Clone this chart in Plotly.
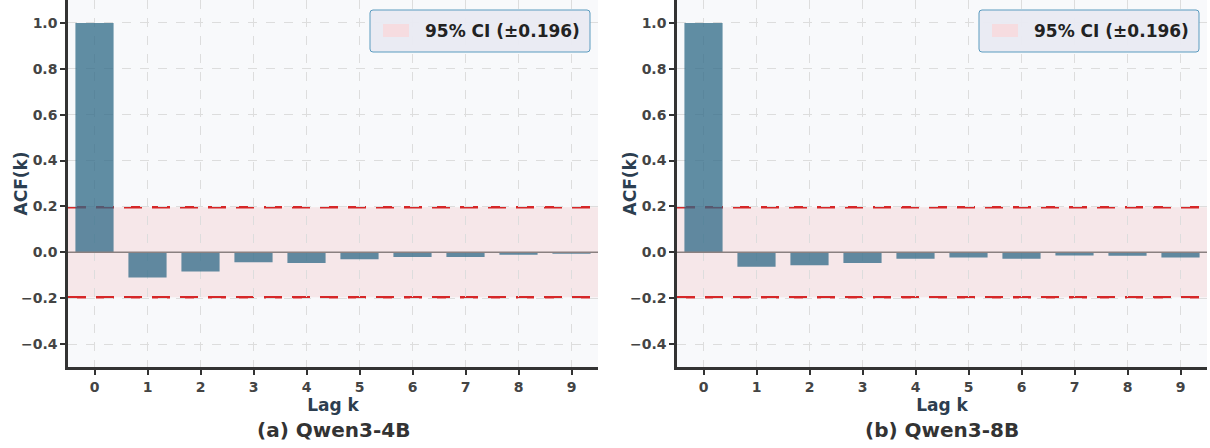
import plotly.graph_objects as go

lags = list(range(10))
acf_4b = [1.0, -0.110, -0.084, -0.043, -0.047, -0.030, -0.020, -0.020, -0.011, -0.006]
acf_8b = [1.0, -0.063, -0.056, -0.047, -0.028, -0.023, -0.028, -0.014, -0.015, -0.023]
ci = 0.196
panel_titles = ["(a) Qwen3-4B", "(b) Qwen3-8B"]
y_ticks = [-0.4, -0.2, 0.0, 0.2, 0.4, 0.6, 0.8, 1.0]
y_ticktext = ["−0.4", "−0.2", "0.0", "0.2", "0.4", "0.6", "0.8", "1.0"]
legend_label = "95% CI (±0.196)"
x_title = "Lag k"
y_title = "ACF(k)"

W, H = 1210, 448
PX0 = [68, 677]
PW = 530
PH = 367
dom_x = [[PX0[0] / W, (PX0[0] + PW) / W], [PX0[1] / W, (PX0[1] + PW) / W]]
dom_y = [(H - PH) / H, 1.0]

FONT = "DejaVu Sans"
BAR_COLOR = "rgba(46,104,133,0.75)"
PINK = "rgba(240,170,170,0.22)"
RED = "#d62728"

fig = go.Figure()
series = [acf_4b, acf_8b]
for i, vals in enumerate(series):
    xa = "x" if i == 0 else "x2"
    ya = "y" if i == 0 else "y2"
    fig.add_trace(go.Bar(x=lags, y=vals, xaxis=xa, yaxis=ya, width=0.72,
                         marker=dict(color=BAR_COLOR, line=dict(width=0)),
                         showlegend=False, name=panel_titles[i]))


def rounded_rect(x0, y0, x1, y1, rx, ry):
    return (f"M {x0+rx},{y0} L {x1-rx},{y0} Q {x1},{y0} {x1},{y0+ry} "
            f"L {x1},{y1-ry} Q {x1},{y1} {x1-rx},{y1} L {x0+rx},{y1} "
            f"Q {x0},{y1} {x0},{y1-ry} L {x0},{y0+ry} Q {x0},{y0} {x0+rx},{y0} Z")


shapes = []
annotations = []
for i in range(2):
    xr = "x domain" if i == 0 else "x2 domain"
    yr = "y" if i == 0 else "y2"
    yd = "y domain" if i == 0 else "y2 domain"
    shapes.append(dict(type="rect", xref=xr, yref=yr, x0=0, x1=1, y0=-ci, y1=ci,
                       fillcolor=PINK, line=dict(width=0), layer="below"))
    for v in (ci, -ci):
        shapes.append(dict(type="line", xref=xr, yref=yr, x0=0, x1=1, y0=v, y1=v,
                           line=dict(color=RED, width=2.5, dash="18px,10px"), layer="below"))
    shapes.append(dict(type="line", xref=xr, yref=yr, x0=0, x1=1, y0=0, y1=0,
                       line=dict(color="#8a8080", width=1.5), layer="above"))
    bx0, bx1 = 302 / PW, 522 / PW
    by1, by0 = 1 - 10 / PH, 1 - 52 / PH
    shapes.append(dict(type="path", xref=xr, yref=yd,
                       path=rounded_rect(bx0, by0, bx1, by1, 3 / PW, 3 / PH),
                       fillcolor="rgba(233,234,242,0.95)",
                       line=dict(color="#5b9bbf", width=1), layer="above"))
    shapes.append(dict(type="rect", xref=xr, yref=yd,
                       x0=315 / PW, x1=341 / PW, y0=1 - 37 / PH, y1=1 - 24 / PH,
                       fillcolor="rgba(246,220,224,1)", line=dict(width=0), layer="above"))
    annotations.append(dict(text=f"<b>{legend_label}</b>", xref=xr, yref=yd,
                            x=355 / PW, y=1 - 31 / PH, xanchor="left", yanchor="middle",
                            showarrow=False,
                            font=dict(family=FONT, size=17, color="#222222")))
    # y-axis title
    annotations.append(dict(text=f"<b>{y_title}</b>", xref="paper", yref=yd,
                            x=(PX0[i] - 48) / W, y=0.5, xanchor="center", yanchor="middle",
                            textangle=-90, showarrow=False,
                            font=dict(family=FONT, size=17, color="#2c3e50")))
    cx = (dom_x[i][0] + dom_x[i][1]) / 2
    annotations.append(dict(text=f"<b>{panel_titles[i]}</b>", x=cx, y=(H - 430) / H,
                            xref="paper", yref="paper", showarrow=False,
                            xanchor="center", yanchor="middle",
                            font=dict(family=FONT, size=20, color="#333333")))

axis_common = dict(showline=True, linecolor="#333333", linewidth=2.5,
                   ticks="outside", ticklen=5, tickwidth=1.5, tickcolor="#333333",
                   showgrid=True, gridcolor="#dddddd", griddash="dash", gridwidth=1,
                   zeroline=False, mirror=False,
                   tickfont=dict(family=FONT, size=14, color="#444444", weight="bold"))

layout = dict(width=W, height=H, margin=dict(l=0, r=0, t=0, b=0),
              paper_bgcolor="white", plot_bgcolor="#f8f9fb",
              shapes=shapes, annotations=annotations, showlegend=False)

for i in range(2):
    sx = "" if i == 0 else "2"
    layout["xaxis" + sx] = dict(axis_common, domain=dom_x[i], range=[-0.5, 9.5],
                                tickmode="array", tickvals=lags,
                                ticktext=[str(v) for v in lags],
                                anchor="y" + sx,
                                title=dict(text=x_title, standoff=6,
                                           font=dict(family=FONT, size=17, color="#2c3e50", weight="bold")))
    layout["yaxis" + sx] = dict(axis_common, domain=dom_y, range=[-0.5, 1.1],
                                tickmode="array", tickvals=y_ticks, ticktext=y_ticktext,
                                anchor="x" + sx)

fig.update_layout(**layout)
fig.write_html("out.html", config={"displayModeBar": False},
               post_script="document.body.style.margin='0';")
